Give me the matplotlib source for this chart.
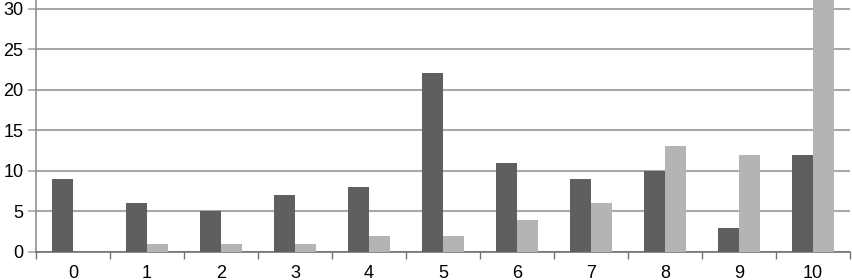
import matplotlib
matplotlib.use("Agg")
import matplotlib.pyplot as plt
import numpy as np

# categories and the two series
categories = ["0", "1", "2", "3", "4", "5", "6", "7", "8", "9", "10"]
dark_vals = [9, 6, 5, 7, 8, 22, 11, 9, 10, 3, 12]
light_vals = [0, 1, 1, 1, 2, 2, 4, 6, 13, 12, 33]
y_ticks = [0, 5, 10, 15, 20, 25, 30]

fig = plt.figure(figsize=(8.52, 2.8), dpi=100)
ax = fig.add_axes([36 / 852, 28 / 280, 814 / 852, 252 / 280])

x = np.arange(len(categories))
w = 0.28
ax.bar(x - w / 2, dark_vals, width=w, color="#5f5f5f", zorder=3)
ax.bar(x + w / 2, light_vals, width=w, color="#b4b4b4", zorder=3)

ax.set_xlim(-0.5, len(categories) - 0.5)
ax.set_ylim(0, 31.05)

# grid lines
ax.set_yticks(y_ticks)
ax.set_yticklabels([str(v) for v in y_ticks], fontsize=13, family="Liberation Sans")
ax.yaxis.grid(True, color="#a8a8a8", linewidth=1.5, zorder=0)
ax.tick_params(axis="y", length=6, width=1.2, color="#a8a8a8", pad=3)

# x axis: labels at centres, ticks at group boundaries
ax.set_xticks(x)
ax.set_xticklabels(categories, fontsize=13, family="Liberation Sans")
ax.set_xticks(np.arange(-0.5, len(categories)), minor=True)
ax.tick_params(axis="x", which="major", length=0, pad=9)
ax.tick_params(axis="x", which="minor", length=5, width=1, color="#707070", direction="out")

for s in ["top", "right"]:
    ax.spines[s].set_visible(False)
ax.spines["left"].set_color("#909090")
ax.spines["left"].set_linewidth(1.2)
ax.spines["bottom"].set_color("#707070")
ax.spines["bottom"].set_linewidth(1.2)

fig.savefig("out.png", dpi=100)
